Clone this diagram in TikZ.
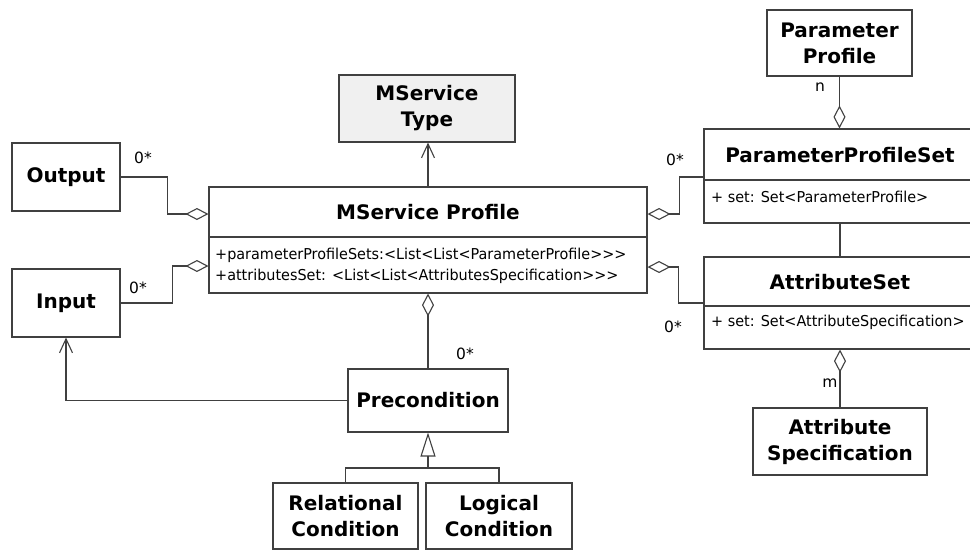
\documentclass[tikz,border=0pt]{standalone}
\usepackage{fontspec}
\setmainfont{DejaVu Sans}
\newfontfamily\attrfont[FakeStretch=0.96]{DejaVu Sans}
\usetikzlibrary{arrows.meta}
\definecolor{ln}{HTML}{404040}
\definecolor{typefill}{HTML}{F0F0F0}
\begin{document}
\begin{tikzpicture}[x=1pt,y=-1pt,
  box/.style={draw=ln, line width=1.1pt, fill=white, inner sep=0pt,
    font=\fontsize{20}{26}\selectfont\bfseries, align=center},
  ttl/.style={font=\fontsize{20}{26}\selectfont\bfseries, inner sep=0pt},
  attr/.style={font=\attrfont\fontsize{15}{21}\selectfont, inner sep=0pt, anchor=west, align=left},
  mult/.style={font=\fontsize{15.5}{17}\selectfont, inner sep=0pt},
  conn/.style={draw=ln, line width=1.1pt},
  aggE/.style={conn, -{Diamond[open, length=23pt, width=12pt, line width=1.1pt]}},
  depE/.style={conn, -{Straight Barb[length=14pt, width=13pt, line width=1.1pt]}},
  genE/.style={conn, -{Triangle[open, length=24pt, width=15pt, line width=1.1pt]}}
]
\useasboundingbox (0,0) rectangle (970,550);

% boxes
\node[box, minimum width=108pt, minimum height=68pt] (output) at (66,177) {Output};
\node[box, minimum width=108pt, minimum height=68pt] (input) at (66,303) {Input};
\node[box, fill=typefill, minimum width=176pt, minimum height=67pt] (mstype) at (427,108.5) {MService\\Type};
\node[box, minimum width=438pt, minimum height=106pt] (msp) at (428,240) {};
\node[box, minimum width=145pt, minimum height=66pt] (pprof) at (839.5,43) {Parameter\\Profile};
\node[box, minimum width=272pt, minimum height=94pt] (pps) at (840,176) {};
\node[box, minimum width=272pt, minimum height=92pt] (aset) at (840,303) {};
\node[box, minimum width=174pt, minimum height=67pt] (aspec) at (840,441.5) {Attribute\\Specification};
\node[box, minimum width=160pt, minimum height=63pt] (pre) at (428,400.5) {Precondition};
\node[box, minimum width=145pt, minimum height=66pt] (rel) at (345.5,516) {Relational\\Condition};
\node[box, minimum width=146pt, minimum height=66pt] (logc) at (499,516) {Logical\\Condition};

% compartments
\draw[conn] (msp.west |- 0,237) -- (msp.east |- 0,237);
\draw[conn] (pps.west |- 0,180) -- (pps.east |- 0,180);
\draw[conn] (aset.west |- 0,306) -- (aset.east |- 0,306);
\node[ttl] (msptitle) at (428,212) {MService Profile};
\node[attr] (mspattr) at (215,265.5) {+parameterProfileSets:<List<List<ParameterProfile>{}>{}>\\+attributesSet: <List<List<AttributesSpecification>{}>{}>};
\node[ttl] (ppstitle) at (840,155) {ParameterProfileSet};
\node[attr] (ppsattr) at (711,197) {+ set: Set<ParameterProfile>};
\node[attr] (asetattr) at (711,322) {+ set: Set<AttributeSpecification>};
\node[ttl] (asettitle) at (840,282) {AttributeSet};

% connectors
\draw[aggE] (output.east) -- ++(47,0) |- (msp.west |- 0,214);
\draw[aggE] (input.east) -- ++(52,0) |- (msp.west |- 0,266);
\draw[aggE] (pps.west |- 0,177) -- ++(-24,0) |- (msp.east |- 0,214);
\draw[aggE] (aset.west) -- ++(-25,0) |- (msp.east |- 0,267);
\draw[aggE] (pprof.south) -- (pprof.south |- pps.north);
\draw[conn] (pps.south) -- (aset.north);
\draw[aggE] (aspec.north) -- (aset.south);
\draw[depE] (msp.north) -- (msp.north |- mstype.south);
\draw[aggE] (pre.north) -- (msp.south);
\draw[depE] (pre.west) -| (input.south);
\draw[conn] (rel.north) -- (rel.north |- 0,468) -| (logc.north);
\draw[genE] (pre.south |- 0,468) -- (pre.south);

% multiplicities
\node[mult] (m1) at (143,158) {0*};
\node[mult] (m2) at (138,288) {0*};
\node[mult] (m3) at (675,160) {0*};
\node[mult] (m4) at (673,327) {0*};
\node[mult] (m5) at (465,354) {0*};
\node[mult] (m6) at (820,87) {n};
\node[mult] (m7) at (830,383) {m};
\end{tikzpicture}
\end{document}
